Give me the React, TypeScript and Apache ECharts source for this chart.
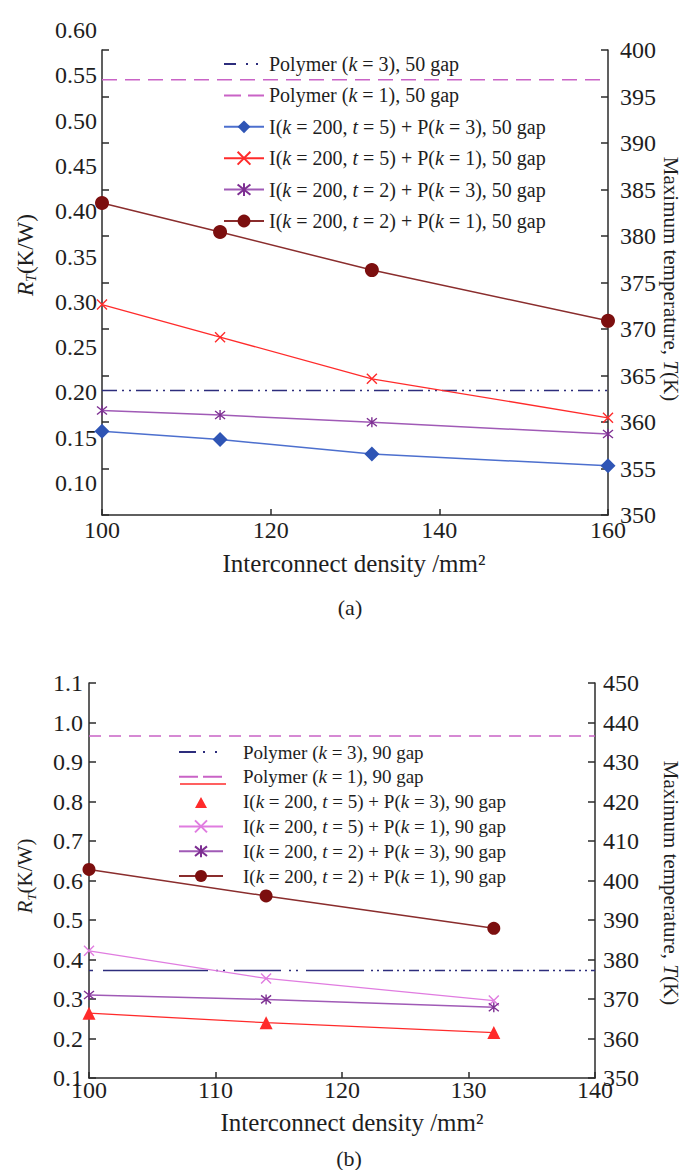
import React, { useEffect, useRef } from "react";
import * as echarts from "echarts";

// ---- Panel (a): 50 gap ----
const densityA = [100, 114, 132, 160];
const densityRangeA = [100, 160];
const t5k3A = [0.157, 0.148, 0.132, 0.119];
const t5k1A = [0.297, 0.261, 0.215, 0.172];
const t2k3A = [0.18, 0.175, 0.167, 0.154];
const t2k1A = [0.409, 0.377, 0.335, 0.279];
const polymerK3A = 0.202;
const polymerK1A = 0.545;

// ---- Panel (b): 90 gap ----
const densityB = [100, 114, 132];
const densityRangeB = [100, 140];
const t5k3B = [0.264, 0.24, 0.215];
const t5k1B = [0.422, 0.352, 0.296];
const t2k3B = [0.31, 0.299, 0.279];
const t2k1B = [0.628, 0.561, 0.479];
const polymerK3B = 0.372;
const polymerK1B = 0.966;

// axis ranges / tick steps
const rtAxisA = { min: 0.05, max: 0.6, step: 0.05 };
const tempAxisA = { min: 350, max: 400, step: 5 };
const rtAxisB = { min: 0.1, max: 1.1, step: 0.1 };
const tempAxisB = { min: 350, max: 450, step: 10 };

const SERIF = "Liberation Serif";
const INK = "#1e1e1e";
const AXIS = { color: "#2b2b2b", width: 1.5 };

const CROSS = "path://M0,0L10,10M10,0L0,10";
const STAR = "path://M0,1L10,9M10,1L0,9M5,0L5,10";
// small triangle centred in a wide legend box
const LEGEND_TRIANGLE = "path://M0,0L0,0.01M44,15L44,14.99M16,14L22,3L28,14Z";

const C = {
  brown: "#7c0f0f",
  brownLine: "#8a2d2d",
  red: "#ff2b2b",
  purple: "#7d2f92",
  purpleLine: "#a05ab6",
  blue: "#2f55b5",
  blueLine: "#4c6fce",
  navy: "#2d2d7c",
  orchid: "#c963c6",
  violet: "#e07ce0",
};

const pts = (xs: number[], ys: number[]) => xs.map((x, i) => [x, ys[i]]);
const flat = (xs: number[], y: number) => xs.map((x) => [x, y]);

const names = (gap: number) => ({
  k3: `Polymer (k = 3), ${gap} gap`,
  k1: `Polymer (k = 1), ${gap} gap`,
  t5k3: `I(k = 200, t = 5) + P(k = 3), ${gap} gap`,
  t5k1: `I(k = 200, t = 5) + P(k = 1), ${gap} gap`,
  t2k3: `I(k = 200, t = 2) + P(k = 3), ${gap} gap`,
  t2k1: `I(k = 200, t = 2) + P(k = 1), ${gap} gap`,
});
const NA = names(50);
const NB = names(90);

const italicVars = (name: string) => name.replace(/([kt])(\s*=)/g, "{i|$1}$2");

// dash pattern of the (k = 3) polymer line in panel (b)
const k3DashB = [
  4, 10, 105, 8, 2, 5, 2, 9, 47, 8, 2, 5, 2, 8, 58, 7,
  ...Array(10).fill([2, 4, 2, 4, 10, 4]).flat(),
];

function lineSeries(
  name: string,
  data: number[][],
  axis: number,
  color: string,
  lineColor: string,
  symbol: string,
  size: number,
  width = 1.5
) {
  const stroked = symbol.startsWith("path://");
  return {
    type: "line",
    name,
    data,
    xAxisIndex: axis,
    yAxisIndex: axis === 1 ? 2 : 3,
    symbol,
    symbolSize: size,
    showSymbol: true,
    silent: true,
    clip: false,
    lineStyle: { color: lineColor, width },
    itemStyle: stroked
      ? { color, borderColor: color, borderWidth: 1.4 }
      : { color, borderWidth: 0 },
    emphasis: { disabled: true },
    z: 3,
  };
}

function refLine(name: string, data: number[][], axis: number, color: string, dash: number[]) {
  return {
    type: "line",
    name,
    data,
    xAxisIndex: axis,
    yAxisIndex: axis === 1 ? 2 : 3,
    symbol: "none",
    silent: true,
    clip: false,
    lineStyle: { color, width: 1.5, type: dash },
    itemStyle: { color: "transparent" },
    emphasis: { disabled: true },
    z: 2,
  };
}

const valueAxisBase = {
  type: "value",
  splitLine: { show: false },
  axisLine: { show: true, onZero: false, lineStyle: AXIS },
  axisTick: { show: true, inside: true, length: 7, lineStyle: AXIS },
  axisLabel: { fontFamily: SERIF, fontSize: 24, color: INK },
};

function buildOption() {
  const legendText = (size: number, lh: number, pad: number) => ({
    fontFamily: SERIF,
    fontSize: size,
    color: INK,
    lineHeight: lh,
    padding: [0, 0, 0, pad],
    rich: { i: { fontFamily: SERIF, fontSize: size, fontStyle: "italic", color: INK, lineHeight: lh } },
  });

  return {
    animation: false,
    backgroundColor: "#ffffff",
    textStyle: { fontFamily: SERIF },
    grid: [
      { left: 102, top: 50, width: 506, height: 465, containLabel: false, outerBoundsMode: "none" },
      { left: 102, top: 30, width: 506, height: 498.3, containLabel: false, outerBoundsMode: "none" },
      { left: 89, top: 683, width: 506, height: 395, containLabel: false, outerBoundsMode: "none" },
    ],
    xAxis: [
      {
        ...valueAxisBase,
        gridIndex: 0,
        position: "bottom",
        min: densityRangeA[0],
        max: densityRangeA[1],
        interval: 20,
        axisTick: { show: true, inside: true, length: 6, lineStyle: AXIS },
        axisLabel: { ...valueAxisBase.axisLabel, margin: 3 },
      },
      { type: "value", gridIndex: 1, min: densityRangeA[0], max: densityRangeA[1], show: false },
      {
        ...valueAxisBase,
        gridIndex: 2,
        position: "bottom",
        min: densityRangeB[0],
        max: densityRangeB[1],
        interval: 10,
        axisTick: { show: true, inside: true, length: 6, lineStyle: AXIS },
        axisLabel: { ...valueAxisBase.axisLabel, margin: 0 },
      },
    ],
    yAxis: [
      {
        ...valueAxisBase,
        gridIndex: 0,
        position: "left",
        min: tempAxisA.min,
        max: tempAxisA.max,
        interval: tempAxisA.step,
        axisLabel: { show: false },
      },
      {
        ...valueAxisBase,
        gridIndex: 0,
        position: "right",
        min: tempAxisA.min,
        max: tempAxisA.max,
        interval: tempAxisA.step,
        axisLabel: { ...valueAxisBase.axisLabel, margin: 12, padding: [0, 0, 12, 0] },
      },
      {
        type: "value",
        gridIndex: 1,
        position: "left",
        min: rtAxisA.min,
        max: rtAxisA.max,
        interval: rtAxisA.step,
        splitLine: { show: false },
        axisLine: { show: false },
        axisTick: { show: false },
        axisLabel: {
          fontFamily: SERIF,
          fontSize: 24,
          color: INK,
          margin: 5,
          formatter: (v: number) => (v < rtAxisA.min + 0.01 ? "" : v.toFixed(2)),
        },
      },
      {
        ...valueAxisBase,
        gridIndex: 2,
        position: "left",
        min: rtAxisB.min,
        max: rtAxisB.max,
        interval: rtAxisB.step,
        axisLabel: { ...valueAxisBase.axisLabel, margin: 6, formatter: (v: number) => v.toFixed(1) },
      },
      {
        ...valueAxisBase,
        gridIndex: 2,
        position: "right",
        min: tempAxisB.min,
        max: tempAxisB.max,
        interval: tempAxisB.step,
        axisLabel: { ...valueAxisBase.axisLabel, margin: 8 },
      },
    ],
    legend: [
      {
        orient: "vertical",
        left: 223,
        top: 53,
        padding: 0,
        itemWidth: 40,
        itemHeight: 16,
        itemGap: 9.4,
        selectedMode: false,
        formatter: italicVars,
        textStyle: legendText(20, 22, 0),
        data: [
          { name: NA.k3, lineStyle: { type: [12, 10, 2, 8, 2, 40] } },
          { name: NA.k1, lineStyle: { type: [17, 7] } },
          NA.t5k3,
          NA.t5k1,
          NA.t2k3,
          NA.t2k1,
        ],
      },
      {
        orient: "vertical",
        left: 178,
        top: 742,
        padding: 0,
        itemWidth: 44,
        itemHeight: 15,
        itemGap: 4.8,
        selectedMode: false,
        symbolKeepAspect: false,
        formatter: italicVars,
        textStyle: legendText(19, 20, 15),
        data: [
          { name: NB.k3, lineStyle: { type: [17, 7, 2, 10, 2, 40] } },
          { name: NB.k1, lineStyle: { type: [19, 5] } },
          { name: NB.t5k3, icon: LEGEND_TRIANGLE, itemStyle: { color: C.red } },
          NB.t5k1,
          NB.t2k3,
          NB.t2k1,
        ],
      },
    ],
    graphic: [
      {
        type: "text",
        x: 354,
        y: 563,
        style: { text: "Interconnect density /mm²", fontFamily: SERIF, fontSize: 25, fill: INK, align: "center", verticalAlign: "middle" },
      },
      {
        type: "text",
        x: 350,
        y: 607,
        style: { text: "(a)", fontFamily: SERIF, fontSize: 22, fill: INK, align: "center", verticalAlign: "middle" },
      },
      {
        type: "text",
        x: 352,
        y: 1122,
        style: { text: "Interconnect density /mm²", fontFamily: SERIF, fontSize: 25, fill: INK, align: "center", verticalAlign: "middle" },
      },
      {
        type: "text",
        x: 349,
        y: 1158,
        style: { text: "(b)", fontFamily: SERIF, fontSize: 22, fill: INK, align: "center", verticalAlign: "middle" },
      },
      ...[
        { x: 25, y: 255, size: 23 },
        { x: 25, y: 876, size: 21 },
      ].map((p) => ({
        type: "text",
        x: p.x,
        y: p.y,
        rotation: Math.PI / 2,
        style: {
          text: "{r|R}{s|T}(K/W)",
          fontFamily: SERIF,
          fontSize: p.size,
          lineHeight: p.size + 4,
          fill: INK,
          align: "center",
          verticalAlign: "middle",
          rich: {
            r: { fontFamily: SERIF, fontSize: p.size, fontStyle: "italic", fill: INK, lineHeight: p.size + 4 },
            s: { fontFamily: SERIF, fontSize: Math.round(p.size * 0.6), fontStyle: "italic", fill: INK, verticalAlign: "bottom", lineHeight: 14 },
          },
        },
      })),
      ...[
        { x: 671, y: 279 },
        { x: 671, y: 883 },
      ].map((p) => ({
        type: "text",
        x: p.x,
        y: p.y,
        rotation: -Math.PI / 2,
        style: {
          text: "Maximum temperature, {i|T}(K)",
          fontFamily: SERIF,
          fontSize: 21,
          fill: INK,
          align: "center",
          verticalAlign: "middle",
          rich: { i: { fontFamily: SERIF, fontSize: 21, fontStyle: "italic", fill: INK } },
        },
      })),
      {
        type: "line",
        shape: { x1: 180, y1: 784, x2: 226, y2: 784 },
        style: { stroke: C.red, lineWidth: 1.5 },
      },
    ],
    series: [
      // panel (a)
      refLine(NA.k3, flat(densityRangeA, polymerK3A), 1, C.navy, [15, 5, 2, 5, 2, 5]),
      refLine(NA.k1, flat(densityRangeA, polymerK1A), 1, C.orchid, [15, 8]),
      lineSeries(NA.t5k3, pts(densityA, t5k3A), 1, C.blue, C.blueLine, "diamond", 15),
      lineSeries(NA.t5k1, pts(densityA, t5k1A), 1, C.red, C.red, CROSS, 10, 1.3),
      lineSeries(NA.t2k3, pts(densityA, t2k3A), 1, C.purple, C.purpleLine, STAR, 10),
      lineSeries(NA.t2k1, pts(densityA, t2k1A), 1, C.brown, C.brownLine, "circle", 14),
      // panel (b)
      refLine(NB.k3, flat(densityRangeB, polymerK3B), 2, C.navy, k3DashB),
      refLine(NB.k1, flat(densityRangeB, polymerK1B), 2, C.orchid, [12, 8]),
      lineSeries(NB.t5k3, pts(densityB, t5k3B), 2, C.red, C.red, "triangle", 13, 1.3),
      lineSeries(NB.t5k1, pts(densityB, t5k1B), 2, C.violet, C.violet, CROSS, 10, 1.3),
      lineSeries(NB.t2k3, pts(densityB, t2k3B), 2, C.purple, C.purpleLine, STAR, 10),
      lineSeries(NB.t2k1, pts(densityB, t2k1B), 2, C.brown, C.brownLine, "circle", 13),
    ],
  };
}

export default function App() {
  const ref = useRef<HTMLDivElement>(null);
  useEffect(() => {
    if (!ref.current) return;
    const chart = echarts.init(ref.current, null, { renderer: "svg" });
    chart.setOption(buildOption() as any);
    return () => chart.dispose();
  }, []);
  return (
    <div
      ref={ref}
      style={{ position: "absolute", left: 0, top: 0, width: 693, height: 1170, background: "#fff" }}
    />
  );
}
